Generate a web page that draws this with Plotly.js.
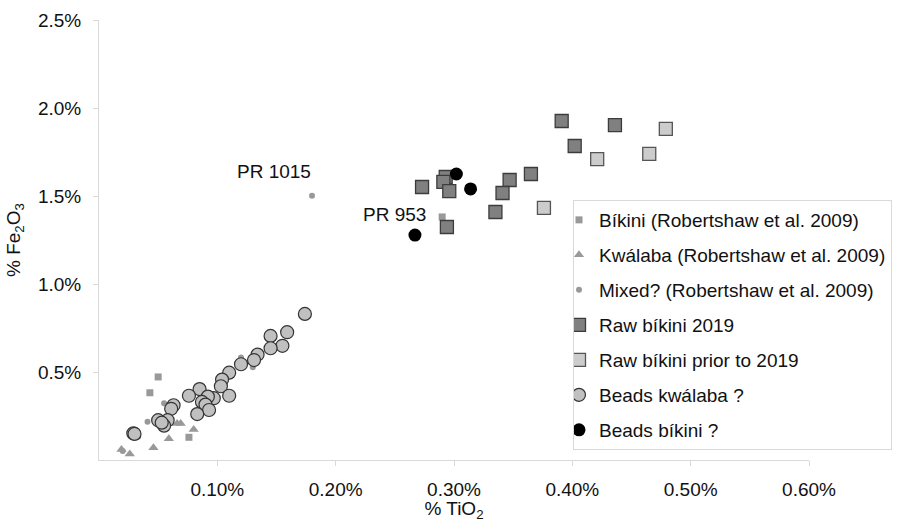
<!DOCTYPE html>
<html>
<head>
<meta charset="utf-8">
<script src="https://cdn.plot.ly/plotly-3.0.1.min.js"></script>
<style>html,body{margin:0;padding:0;background:#fff;}#chart{width:900px;height:522px;}</style>
</head>
<body>
<div id="chart"></div>
<script>
// Values in % (TiO2 on x, Fe2O3 on y)
const bikiniRobX = [0.050, 0.043, 0.076, 0.290];
const bikiniRobY = [0.472, 0.382, 0.129, 1.381];

const kwalabaRobX = [0.019, 0.026, 0.046, 0.059, 0.066, 0.069, 0.080];
const kwalabaRobY = [0.060, 0.034, 0.070, 0.121, 0.207, 0.207, 0.174];

const mixedRobX = [0.180, 0.055, 0.041, 0.020, 0.120, 0.130, 0.033];
const mixedRobY = [1.502, 0.322, 0.218, 0.051, 0.582, 0.527, 0.132];

const raw2019X = [0.391, 0.436, 0.402, 0.365, 0.347, 0.341, 0.335, 0.273, 0.293, 0.291, 0.296, 0.294];
const raw2019Y = [1.926, 1.903, 1.784, 1.625, 1.591, 1.517, 1.409, 1.551, 1.608, 1.580, 1.528, 1.324];

const rawPriorX = [0.479, 0.465, 0.421, 0.376];
const rawPriorY = [1.881, 1.739, 1.710, 1.432];

const beadsKwalabaX = [0.174, 0.159, 0.145, 0.155, 0.145, 0.134, 0.131, 0.120, 0.110, 0.104, 0.103, 0.110, 0.097, 0.085, 0.076, 0.092, 0.087, 0.090, 0.093, 0.083, 0.063, 0.061, 0.050, 0.058, 0.055, 0.029, 0.030, 0.053];
const beadsKwalabaY = [0.830, 0.726, 0.705, 0.649, 0.635, 0.599, 0.568, 0.544, 0.496, 0.457, 0.419, 0.365, 0.351, 0.403, 0.365, 0.360, 0.330, 0.315, 0.284, 0.261, 0.311, 0.291, 0.226, 0.226, 0.195, 0.152, 0.148, 0.212];

const beadsBikiniX = [0.302, 0.314, 0.267];
const beadsBikiniY = [1.625, 1.540, 1.278];

const xTicks = [0.1, 0.2, 0.3, 0.4, 0.5, 0.6];
const xTickText = ['0.10%', '0.20%', '0.30%', '0.40%', '0.50%', '0.60%'];
const yTicks = [0.5, 1.0, 1.5, 2.0, 2.5];
const yTickText = ['0.5%', '1.0%', '1.5%', '2.0%', '2.5%'];

const FONT = 'Liberation Sans, Arial, sans-serif';
const FS = 19;

function tr(name, x, y, marker) {
  return {type: 'scatter', mode: 'markers', name: name, x: x, y: y,
          legendgroup: name, marker: marker, hoverinfo: 'x+y+name'};
}

const data = [
  tr('Bíkini (Robertshaw et al. 2009)', bikiniRobX, bikiniRobY,
     {symbol: 'square', size: 7, color: '#999999'}),
  tr('Kwálaba (Robertshaw et al. 2009)', kwalabaRobX, kwalabaRobY,
     {symbol: 'triangle-up', size: 9, color: '#999999'}),
  tr('Mixed? (Robertshaw et al. 2009)', mixedRobX, mixedRobY,
     {symbol: 'circle', size: 6, color: '#999999'}),
  tr('Raw bíkini 2019', raw2019X, raw2019Y,
     {symbol: 'square', size: 13, color: '#808080', line: {color: '#3c3c3c', width: 1.3}}),
  tr('Raw bíkini prior to 2019', rawPriorX, rawPriorY,
     {symbol: 'square', size: 13, color: '#cccccc', line: {color: '#555555', width: 1.3}}),
  tr('Beads kwálaba ?', beadsKwalabaX, beadsKwalabaY,
     {symbol: 'circle', size: 13, color: '#c0c0c0', line: {color: '#333333', width: 1.2}}),
  tr('Beads bíkini ?', beadsBikiniX, beadsBikiniY,
     {symbol: 'circle', size: 13, color: '#000000'})
];

const layout = {
  width: 900, height: 522,
  margin: {l: 99, r: 91, t: 20, b: 62, autoexpand: false},
  paper_bgcolor: '#ffffff', plot_bgcolor: '#ffffff',
  font: {family: FONT, size: FS, color: '#111111'},
  showlegend: true,
  legend: {
    x: (573 - 99) / 710, y: (460 - 200) / 440, xanchor: 'left', yanchor: 'top',
    bordercolor: '#d9d9d9', borderwidth: 1, bgcolor: '#ffffff',
    font: {family: FONT, size: FS, color: '#111111'},
    traceorder: 'grouped', tracegroupgap: 7.3, indentation: -15, itemwidth: 30
  },
  xaxis: {
    range: [0, 0.6], showgrid: false, zeroline: false,
    showline: true, linecolor: '#d9d9d9', linewidth: 1,
    ticks: 'outside', ticklen: 5, tickcolor: '#d9d9d9',
    tickmode: 'array', tickvals: xTicks, ticktext: xTickText,
    ticklabelstandoff: 7,
    title: {text: '% TiO<sub>2</sub>', standoff: 6, font: {family: FONT, size: FS}}
  },
  yaxis: {
    range: [0, 2.5], showgrid: false, zeroline: false,
    showline: true, linecolor: '#d9d9d9', linewidth: 1,
    ticks: 'outside', ticklen: 5, tickcolor: '#d9d9d9',
    tickmode: 'array', tickvals: yTicks, ticktext: yTickText,
    ticklabelstandoff: 8,
    title: {text: '% Fe<sub>2</sub>O<sub>3</sub>', standoff: 12, font: {family: FONT, size: FS}}
  },
  annotations: [
    {x: mixedRobX[0], y: mixedRobY[0], xref: 'x', yref: 'y', text: 'PR 1015',
     showarrow: false, xanchor: 'right', yanchor: 'middle', xshift: 1, yshift: 24,
     font: {family: FONT, size: FS, color: '#111111'}},
    {x: beadsBikiniX[2], y: beadsBikiniY[2], xref: 'x', yref: 'y', text: 'PR 953',
     showarrow: false, xanchor: 'right', yanchor: 'middle', xshift: 13, yshift: 21,
     font: {family: FONT, size: FS, color: '#111111'}}
  ]
};

Plotly.newPlot('chart', data, layout, {displayModeBar: false, staticPlot: true});
</script>
</body>
</html>
